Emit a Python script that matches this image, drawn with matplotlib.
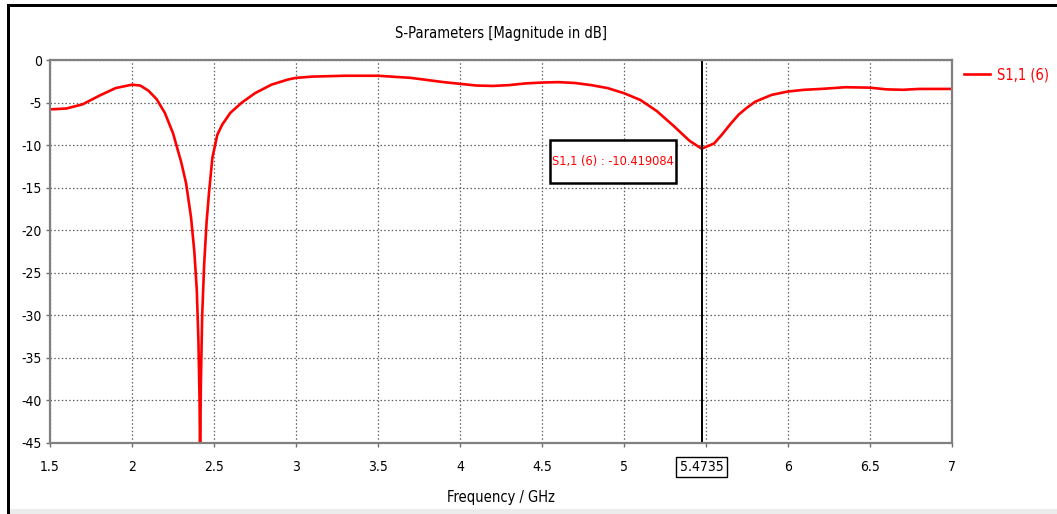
import numpy as np
import matplotlib.pyplot as plt
from matplotlib.patches import Rectangle

# S11 magnitude (dB)
freq = [1.5, 1.6, 1.7, 1.8, 1.9, 2.0, 2.05, 2.1, 2.15, 2.2, 2.25, 2.3, 2.33,
        2.36, 2.38, 2.395, 2.405, 2.412, 2.415, 2.42, 2.428, 2.44, 2.455,
        2.47, 2.49, 2.52, 2.55, 2.6, 2.67, 2.75, 2.85, 2.95, 3.0, 3.1, 3.3,
        3.5, 3.7, 3.9, 4.0, 4.1, 4.2, 4.3, 4.4, 4.5, 4.6, 4.7, 4.8, 4.9, 5.0,
        5.1, 5.2, 5.3, 5.4, 5.4735, 5.55, 5.6, 5.65, 5.7, 5.75, 5.8, 5.9, 6.0,
        6.1, 6.2, 6.35, 6.5, 6.6, 6.7, 6.8, 7.0]
s11 = [-5.8, -5.7, -5.2, -4.2, -3.3, -2.9, -3.0, -3.6, -4.6, -6.2, -8.6, -12.0, -14.5,
       -18.5, -22.5, -27.0, -33.0, -40.0, -47.0, -38.0, -30.0, -24.0, -19.0,
       -15.5, -11.5, -8.8, -7.6, -6.2, -5.0, -3.9, -2.9, -2.3, -2.1, -1.95, -1.85,
       -1.85, -2.1, -2.6, -2.8, -3.0, -3.05, -2.95, -2.75, -2.65, -2.6, -2.7, -2.95, -3.3, -3.9,
       -4.7, -6.0, -7.7, -9.5, -10.42, -9.8, -8.7, -7.5, -6.4, -5.6, -4.9, -4.1, -3.7,
       -3.5, -3.4, -3.2, -3.25, -3.45, -3.5, -3.4, -3.4]

marker_f = 5.4735
marker_val = -10.419084
xticks = [1.5, 2, 2.5, 3, 3.5, 4, 4.5, 5, 5.5, 6, 6.5, 7]
xlabels = ['1.5', '2', '2.5', '3', '3.5', '4', '4.5', '5', '', '6', '6.5', '7']
yticks = [0, -5, -10, -15, -20, -25, -30, -35, -40, -45]

plt.rcParams['font.family'] = ['DejaVu Sans']
plt.rcParams['font.stretch'] = 'condensed'

fig = plt.figure(figsize=(10.57, 5.14), dpi=100)
ax = fig.add_axes([50/1057, 1 - 443/514, 902/1057, 383/514])

ax.plot(freq, s11, color='#ff0000', lw=1.9, label='S1,1 (6)', clip_on=True)
ax.axvline(marker_f, color='black', lw=1.4)

ax.set_xlim(1.5, 7)
ax.set_ylim(-45, 0)
ax.set_xticks(xticks)
ax.set_xticklabels(xlabels)
ax.set_yticks(yticks)
ax.set_yticklabels([str(t) for t in yticks])
ax.grid(True, color='#606060', ls=(0, (1.2, 1.8)), lw=0.9)
ax.tick_params(direction='out', length=3, width=1, color='#707070',
               labelsize=10, pad=3)
ax.tick_params(axis='x', pad=9)
for s in ax.spines.values():
    s.set_color('#808080')
    s.set_linewidth(1.6)

ax.text(marker_f, -47.0, '5.4735', ha='center', va='top',
        fontsize=10, color='black',
        bbox=dict(boxstyle='square,pad=0.25', fc='white', ec='black', lw=1.0))

# marker readout box
ax.add_patch(Rectangle((4.55, -14.4), 0.77, 5.0, fc='white', ec='black', lw=1.8,
                       zorder=4))
ax.text(4.935, -11.9, 'S1,1 (6) : ' + str(marker_val), ha='center', va='center',
        fontsize=9.2, color='#ff0000', zorder=5)

ax.set_title('S-Parameters [Magnitude in dB]', fontsize=10.5, pad=16)
ax.set_xlabel('Frequency / GHz', fontsize=10.5, labelpad=12)

ax.legend(loc='center left', bbox_to_anchor=(1.013, 0.961), frameon=False,
          fontsize=10.5, handlelength=1.8, labelcolor='#ff0000', handletextpad=0.5,
          borderaxespad=0, borderpad=0)

# outer frame like the screenshot
fig.add_artist(Rectangle((7/1057, 0), 3/1057, 1 - 5/514, transform=fig.transFigure,
                         color='black', lw=0))
fig.add_artist(Rectangle((7/1057, 1 - 7/514), 1, 3/514, transform=fig.transFigure,
                         color='black', lw=0))
fig.add_artist(Rectangle((10/1057, 0), 1, 5/514, transform=fig.transFigure,
                         color='#ececec', lw=0))

fig.savefig('out.png', dpi=100)
